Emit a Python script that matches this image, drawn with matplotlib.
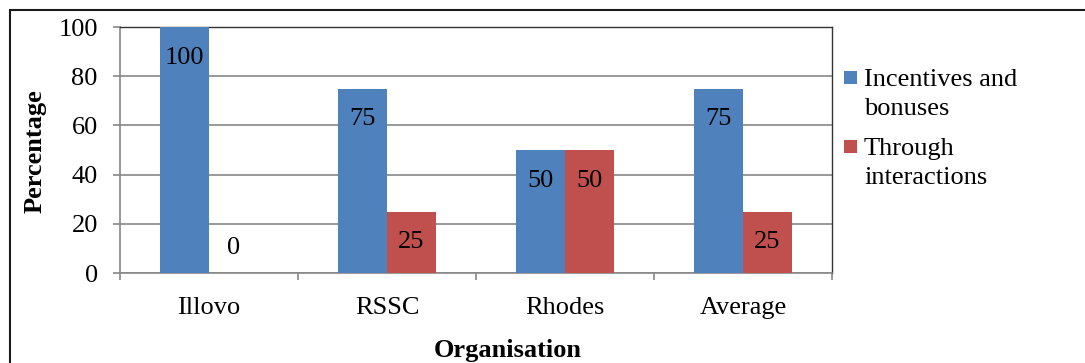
import matplotlib
matplotlib.use('Agg')
import matplotlib.pyplot as plt
from matplotlib.patches import Rectangle
import numpy as np

plt.rcParams['font.family'] = ['Liberation Serif', 'DejaVu Serif']

# ─── Data ─────────────────────────────────────────────────────────────────────
organisations = ['Illovo', 'RSSC', 'Rhodes', 'Average']
incentives    = [100, 75, 50, 75]
interactions  = [0, 25, 50, 25]
series_names  = ['Incentives and\nbonuses', 'Through\ninteractions']
y_ticks       = [0, 20, 40, 60, 80, 100]

BLUE  = '#4F81BD'
RED   = '#C0504D'
GRID  = '#878787'
FS    = 19
W, H  = 1085, 363

fig = plt.figure(figsize=(W / 100, H / 100), dpi=100)
fig.patch.set_facecolor('white')

# outer chart frame (runs off right/bottom edge as in the source)
fig.patches.append(Rectangle((10 / W, -0.1), 1.2, 1 - 10 / H + 0.1,
                             transform=fig.transFigure, fill=False,
                             edgecolor='#1a1a1a', linewidth=1.5))

ax = fig.add_axes([120 / W, (H - 273) / H, (832 - 120) / W, (273 - 27) / H])

x = np.arange(len(organisations))
bw = 0.275
b1 = ax.bar(x - bw / 2, incentives, bw, color=BLUE, zorder=3)
b2 = ax.bar(x + bw / 2, interactions, bw, color=RED, zorder=3)

# value labels, Excel "inside end" style
for bars, vals in ((b1, incentives), (b2, interactions)):
    for bar, v in zip(bars, vals):
        cx = bar.get_x() + bar.get_width() / 2
        off = -22 if v > 0 else 18
        ax.annotate(f'{v}', xy=(cx, v), xytext=(0, off), textcoords='offset points',
                    ha='center', va='center', fontsize=FS, color='black', zorder=4)

ax.set_xlim(-0.5, len(organisations) - 0.5)
ax.set_ylim(0, 100)
ax.set_yticks(y_ticks)
ax.set_xticks(x)
ax.set_xticklabels(organisations)
ax.set_xticks(np.arange(-0.5, len(organisations)), minor=True)
ax.tick_params(axis='x', which='major', length=0, pad=17, labelsize=FS)
ax.tick_params(axis='x', which='minor', length=5, width=1.2, color=GRID, direction='out')
ax.tick_params(axis='y', length=5, width=1.2, color=GRID, direction='out', pad=11, labelsize=FS)

ax.grid(axis='y', color=GRID, linewidth=1.2, zorder=0)
for s in ('left', 'bottom'):
    ax.spines[s].set_color(GRID)
    ax.spines[s].set_linewidth(1.2)
for s in ('top', 'right'):
    ax.spines[s].set_color('#333333')
    ax.spines[s].set_linewidth(1.0)

fig.text(35 / W, 1 - 151 / H, 'Percentage', rotation=90, ha='center', va='center',
         fontsize=FS, fontweight='bold')
fig.text(508 / W, 1 - 350 / H, 'Organisation', ha='center', va='center',
         fontsize=FS, fontweight='bold')

# legend
for color, name, top in ((BLUE, series_names[0], 71), (RED, series_names[1], 140)):
    fig.patches.append(Rectangle((844 / W, 1 - (top + 13) / H), 13 / W, 13 / H,
                                 transform=fig.transFigure, facecolor=color,
                                 edgecolor='none'))
    fig.text(864 / W, 1 - (top - 2) / H, name, ha='left', va='top',
             fontsize=FS, linespacing=1.4)

plt.savefig('out.png', dpi=100)
plt.close()
